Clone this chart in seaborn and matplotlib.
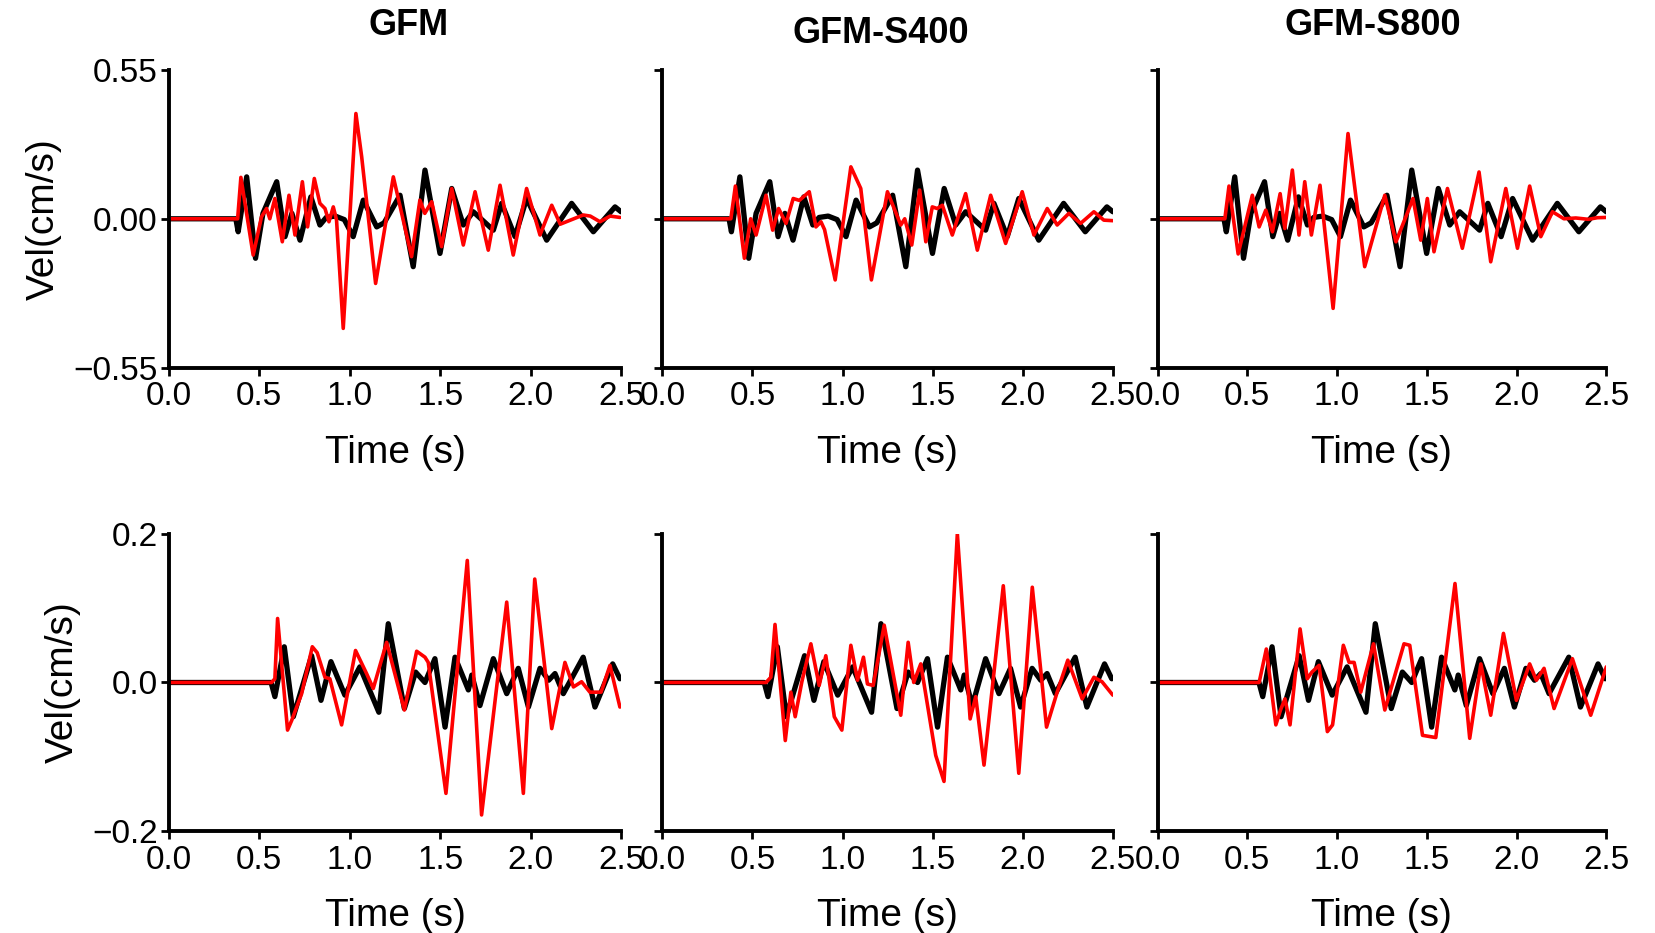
import numpy as np
import pandas as pd
import matplotlib
matplotlib.use("Agg")
import matplotlib.pyplot as plt
import seaborn as sns

# values (time in s, velocity in cm/s)
titles = ["GFM", "GFM-S400", "GFM-S800"]

# top row, black trace (same in all three panels)
top_black_t = [0.0, 0.37, 0.383, 0.430, 0.479, 0.52, 0.596, 0.642, 0.680, 0.725, 0.785, 0.835, 0.87, 0.92,
               0.97, 1.019, 1.075, 1.149, 1.19, 1.278, 1.351, 1.416, 1.499, 1.564, 1.628, 1.683, 1.794, 1.840,
               1.914, 1.978, 2.089, 2.227, 2.347, 2.467, 2.50]
top_black_v = [0, 0, -0.048, 0.155, -0.146, 0.02, 0.137, -0.066, 0.02, -0.079, 0.081, -0.023, 0.005, 0.01,
               -0.003, -0.066, 0.069, -0.030, -0.015, 0.087, -0.177, 0.180, -0.128, 0.112, -0.023, 0.026, -0.042, 0.057,
               -0.066, 0.075, -0.079, 0.057, -0.048, 0.044, 0.026]

# top row, red traces
top_red1_t = [0.0, 0.38, 0.398, 0.466, 0.512, 0.540, 0.558, 0.586, 0.627, 0.664, 0.697, 0.738, 0.767, 0.804,
              0.835, 0.863, 0.885, 0.909, 0.927, 0.964, 1.034, 1.066, 1.143, 1.241, 1.342, 1.388, 1.415, 1.453,
              1.508, 1.564, 1.628, 1.693, 1.766, 1.831, 1.904, 1.978, 2.052, 2.117, 2.164, 2.22, 2.291, 2.33,
              2.384, 2.44, 2.494]
top_red1_v = [0, 0, 0.153, -0.134, 0.007, 0.038, 0.0, 0.075, -0.085, 0.087, -0.060, 0.137, -0.030, 0.149,
              0.057, 0.038, -0.011, 0.044, -0.005, -0.405, 0.389, 0.229, -0.239, 0.155, -0.140, 0.069, 0.02, 0.063,
              -0.103, 0.112, -0.097, 0.100, -0.116, 0.124, -0.134, 0.112, -0.060, 0.050, -0.020, -0.005, 0.014, 0.01,
              -0.011, 0.01, 0.005]

top_red2_t = [0.0, 0.38, 0.405, 0.455, 0.49, 0.520, 0.575, 0.612, 0.645, 0.686, 0.726, 0.76, 0.815, 0.852,
              0.880, 0.90, 0.959, 1.046, 1.101, 1.160, 1.249, 1.323, 1.345, 1.384, 1.428, 1.462, 1.498, 1.525,
              1.554, 1.609, 1.683, 1.748, 1.822, 1.905, 1.997, 2.062, 2.136, 2.191, 2.256, 2.321, 2.395, 2.450, 2.50]
top_red2_v = [0, 0, 0.121, -0.146, 0.0, -0.060, 0.087, -0.042, 0.038, -0.017, 0.075, 0.068, 0.100, -0.030,
              -0.011, -0.04, -0.226, 0.192, 0.112, -0.226, 0.100, -0.023, 0.0, -0.097, 0.106, -0.085, 0.044, 0.038,
              0.050, -0.060, 0.093, -0.116, 0.087, -0.091, 0.100, -0.060, 0.038, -0.023, 0.020, -0.017, 0.026, -0.005, -0.007]

top_red3_t = [0.0, 0.375, 0.398, 0.449, 0.528, 0.566, 0.603, 0.640, 0.683, 0.709, 0.751, 0.788, 0.820, 0.857,
              0.905, 0.978, 1.061, 1.154, 1.266, 1.328, 1.383, 1.423, 1.466, 1.503, 1.540, 1.615, 1.698, 1.791,
              1.856, 1.940, 2.005, 2.073, 2.135, 2.200, 2.264, 2.33, 2.40, 2.45, 2.50]
top_red3_v = [0, 0, 0.121, -0.130, 0.087, -0.030, 0.032, -0.048, 0.093, -0.036, 0.180, -0.060, 0.137, -0.060,
              0.124, -0.331, 0.315, -0.177, 0.087, -0.085, 0.007, 0.075, -0.079, 0.075, -0.122, 0.112, -0.109, 0.173,
              -0.159, 0.112, -0.109, 0.121, -0.066, 0.026, 0.0, 0.003, -0.002, 0.004, 0.005]

# bottom row, black trace (same in all three panels)
bot_black_t = [0.0, 0.565, 0.586, 0.638, 0.688, 0.789, 0.841, 0.896, 0.973, 1.056, 1.161, 1.213, 1.302, 1.364,
               1.416, 1.471, 1.527, 1.582, 1.656, 1.675, 1.720, 1.794, 1.868, 1.932, 1.988, 2.052, 2.10, 2.135,
               2.181, 2.291, 2.356, 2.454, 2.494]
bot_black_v = [0, 0, -0.019, 0.048, -0.046, 0.036, -0.024, 0.028, -0.017, 0.021, -0.040, 0.079, -0.035, 0.014,
               0.0, 0.032, -0.060, 0.034, -0.01, 0.01, -0.031, 0.032, -0.015, 0.019, -0.033, 0.019, 0.003, 0.012,
               -0.015, 0.034, -0.033, 0.025, 0.005]

# bottom row, red traces
bot_red1_t = [0.0, 0.567, 0.586, 0.601, 0.656, 0.679, 0.734, 0.793, 0.82, 0.863, 0.89, 0.955, 1.032, 1.093,
              1.130, 1.204, 1.302, 1.370, 1.416, 1.434, 1.532, 1.650, 1.729, 1.868, 1.960, 2.023, 2.117, 2.190,
              2.237, 2.282, 2.328, 2.39, 2.439, 2.494]
bot_red1_v = [0, 0, 0.005, 0.086, -0.064, -0.051, -0.015, 0.048, 0.040, 0.007, 0.005, -0.057, 0.043, 0.012,
              -0.008, 0.054, -0.037, 0.042, 0.034, 0.027, -0.149, 0.164, -0.178, 0.108, -0.149, 0.139, -0.062, 0.027,
              -0.006, 0.001, -0.013, -0.013, 0.023, -0.033]

bot_red2_t = [0.0, 0.575, 0.602, 0.625, 0.682, 0.713, 0.737, 0.774, 0.824, 0.870, 0.907, 0.954, 0.996, 1.046,
              1.083, 1.116, 1.138, 1.17, 1.231, 1.323, 1.364, 1.395, 1.434, 1.517, 1.563, 1.637, 1.708, 1.739,
              1.785, 1.892, 1.978, 2.053, 2.132, 2.191, 2.250, 2.330, 2.395, 2.44, 2.50]
bot_red2_v = [0, 0, 0.007, 0.078, -0.078, -0.013, -0.046, 0.001, 0.052, -0.004, 0.036, -0.046, -0.064, 0.050,
              0.003, 0.034, -0.002, -0.004, 0.077, -0.044, 0.054, 0.0, 0.025, -0.098, -0.133, 0.200, -0.049, -0.019,
              -0.111, 0.130, -0.122, 0.128, -0.060, -0.013, 0.030, -0.022, 0.007, 0.001, -0.017]

bot_red3_t = [0.0, 0.566, 0.606, 0.659, 0.685, 0.71, 0.738, 0.794, 0.834, 0.860, 0.900, 0.946, 0.975, 1.035,
              1.067, 1.095, 1.132, 1.203, 1.266, 1.373, 1.405, 1.476, 1.550, 1.657, 1.739, 1.801, 1.856, 1.927,
              1.999, 2.073, 2.110, 2.153, 2.209, 2.311, 2.413, 2.50]
bot_red3_v = [0, 0, 0.045, -0.057, -0.037, -0.022, -0.057, 0.072, 0.005, 0.014, 0.023, -0.066, -0.057, 0.050,
              0.027, 0.027, -0.013, 0.052, -0.037, 0.052, 0.050, -0.071, -0.074, 0.133, -0.075, 0.025, -0.044, 0.066,
              -0.024, 0.025, 0.003, 0.019, -0.035, 0.032, -0.044, 0.021]

rows = [
    {"black": (top_black_t, top_black_v),
     "red": [(top_red1_t, top_red1_v), (top_red2_t, top_red2_v), (top_red3_t, top_red3_v)],
     "lim": 0.55, "ticks": [-0.55, 0.0, 0.55], "fmt": "{:.2f}"},
    {"black": (bot_black_t, bot_black_v),
     "red": [(bot_red1_t, bot_red1_v), (bot_red2_t, bot_red2_v), (bot_red3_t, bot_red3_v)],
     "lim": 0.2, "ticks": [-0.2, 0.0, 0.2], "fmt": "{:.1f}"},
]

sns.set_style("ticks", {"axes.edgecolor": "black", "xtick.color": "black", "ytick.color": "black",
                        "text.color": "black", "axes.labelcolor": "black"})
plt.rcParams['font.family'] = ['Liberation Sans', 'DejaVu Sans']

fig = plt.figure(figsize=(16.56, 9.33), dpi=100)

# axes positions in figure fraction
lefts = [0.102, 0.400, 0.699]
widths = [0.273, 0.272, 0.271]
bottoms = [0.606, 0.109]
height = 0.319

for r, row in enumerate(rows):
    for c in range(3):
        ax = fig.add_axes([lefts[c], bottoms[r], widths[c], height])
        bt, bv = row["black"]
        sns.lineplot(x=bt, y=bv, ax=ax, color="black", lw=3.8, sort=False, estimator=None,
                     solid_joinstyle="round")
        rt, rv = row["red"][c]
        sns.lineplot(x=rt, y=rv, ax=ax, color="#ff0000", lw=2.6, sort=False, estimator=None,
                     solid_joinstyle="round")

        ax.set_xlim(0, 2.5)
        ax.set_ylim(-row["lim"], row["lim"])
        ax.set_xticks([0.0, 0.5, 1.0, 1.5, 2.0, 2.5])
        ax.set_xticklabels(["0.0", "0.5", "1.0", "1.5", "2.0", "2.5"], fontsize=24)
        ax.set_yticks(row["ticks"])
        if c == 0:
            ax.set_yticklabels([row["fmt"].format(v).replace("-", "\u2212") for v in row["ticks"]], fontsize=24)
            ax.set_ylabel("Vel(cm/s)", fontsize=28, labelpad=8)
        else:
            ax.set_yticklabels([])
            ax.set_ylabel("")
        ax.set_xlabel("Time (s)", fontsize=28, labelpad=16)
        ax.tick_params(axis="x", direction="out", length=6, width=2, pad=4, colors="black")
        ax.tick_params(axis="y", direction="out", length=6, width=2, pad=2, colors="black")
        sns.despine(ax=ax)
        for side in ["left", "bottom"]:
            ax.spines[side].set_linewidth(2.8)
            ax.spines[side].set_color("black")
        ax.grid(False)

# column titles
title_x = [0.247, 0.532, 0.829]
title_y = [0.973, 0.964, 0.973]
for i, name in enumerate(titles):
    fig.text(title_x[i], title_y[i], name, ha="center", va="center", fontsize=26, fontweight="bold")

plt.savefig("out.png", dpi=100)
